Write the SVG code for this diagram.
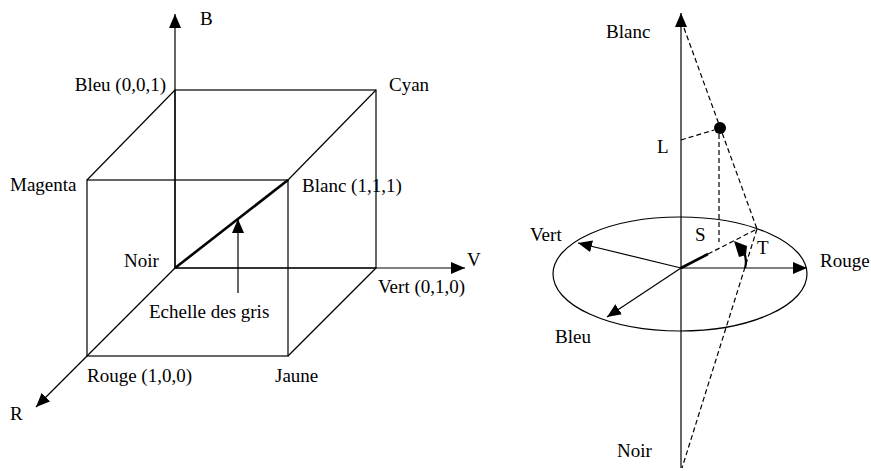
<svg xmlns="http://www.w3.org/2000/svg" width="871" height="471" viewBox="0 0 871 471">
<style>
text{font-family:"Liberation Serif","Times New Roman",serif;font-size:19px;fill:#000}
.ln{stroke:#000;stroke-width:1.2;fill:none}
.thk{stroke:#000;stroke-width:2.6;fill:none}
.dsh{stroke:#000;stroke-width:1.2;fill:none;stroke-dasharray:5,3}
.arr{marker-end:url(#ah)}
</style>
<defs>
<marker id="ah" markerUnits="userSpaceOnUse" markerWidth="14" markerHeight="12" refX="14" refY="6" orient="auto">
<path d="M0,0 L14,6 L0,12 z" fill="#000"/>
</marker>
</defs>
<rect width="871" height="471" fill="#fff"/>

<g id="connectors">
<g id="cube">
<rect class="ln" x="175" y="90" width="201" height="178"/>
<rect class="ln" x="87" y="180" width="201" height="176"/>
<line class="ln" x1="175" y1="90" x2="87" y2="180"/>
<line class="ln" x1="376" y1="90" x2="288" y2="180"/>
<line class="ln" x1="376" y1="268" x2="288" y2="356"/>
</g>
<line id="axis-B" class="ln arr" x1="175" y1="268" x2="175" y2="14"/>
<line id="axis-V" class="ln arr" x1="175" y1="268" x2="465" y2="268"/>
<line id="axis-R" class="ln arr" x1="175" y1="268" x2="36" y2="407"/>
<line id="grey-diagonal" class="thk" x1="175" y1="268" x2="288" y2="180"/>
<line id="grey-pointer" class="ln arr" x1="238" y1="293" x2="238" y2="219"/>

<line id="axis-L" class="ln arr" x1="681" y1="468" x2="681" y2="13"/>
<ellipse id="hue-circle" class="ln" cx="680" cy="274" rx="127" ry="57"/>
<line id="vec-rouge" class="ln arr" x1="681" y1="268" x2="807" y2="268"/>
<line id="vec-vert" class="ln arr" x1="681" y1="268" x2="578" y2="243"/>
<line id="vec-bleu" class="ln arr" x1="681" y1="268" x2="607" y2="317"/>
<line id="vec-S" class="thk" x1="681" y1="268" x2="708" y2="254"/>
<line class="dsh" x1="708" y1="254" x2="757" y2="229"/>
<line class="dsh" x1="684" y1="28" x2="757" y2="229"/>
<line class="dsh" x1="757" y1="229" x2="682" y2="468"/>
<line class="dsh" x1="681" y1="140" x2="714" y2="130"/>
<line class="dsh" x1="719" y1="134" x2="719" y2="242"/>
<g id="hue-arrow">
<path d="M745,268 Q747,262 744.5,253" fill="none" stroke="#000" stroke-width="2.2"/>
<polygon points="734,241 747,246 746,255 739,257" fill="#000"/>
</g>
</g>

<g id="point"><circle cx="720" cy="128" r="6" fill="#000"/></g>

<g id="labels-left">
<text id="lbl-B" x="200" y="25">B</text>
<text id="lbl-bleu" x="166" y="91" text-anchor="end">Bleu (0,0,1)</text>
<text id="lbl-cyan" x="389" y="91">Cyan</text>
<text id="lbl-magenta" x="10" y="191">Magenta</text>
<text id="lbl-blanc" x="302" y="192">Blanc (1,1,1)</text>
<text id="lbl-noir" x="124" y="267">Noir</text>
<text id="lbl-V" x="467" y="266">V</text>
<text id="lbl-vert" x="378" y="293">Vert (0,1,0)</text>
<text id="lbl-echelle" x="149" y="318">Echelle des gris</text>
<text id="lbl-rouge" x="87" y="382">Rouge (1,0,0)</text>
<text id="lbl-jaune" x="275" y="382">Jaune</text>
<text id="lbl-R" x="10" y="420">R</text>
</g>

<g id="labels-right">
<text id="r-blanc" x="606" y="38">Blanc</text>
<text id="r-L" x="657" y="153">L</text>
<text id="r-vert" x="530" y="241">Vert</text>
<text id="r-S" x="695" y="241">S</text>
<text id="r-T" x="757" y="254">T</text>
<text id="r-rouge" x="820" y="267">Rouge</text>
<text id="r-bleu" x="555" y="343">Bleu</text>
<text id="r-noir" x="617" y="457">Noir</text>
</g>
</svg>
